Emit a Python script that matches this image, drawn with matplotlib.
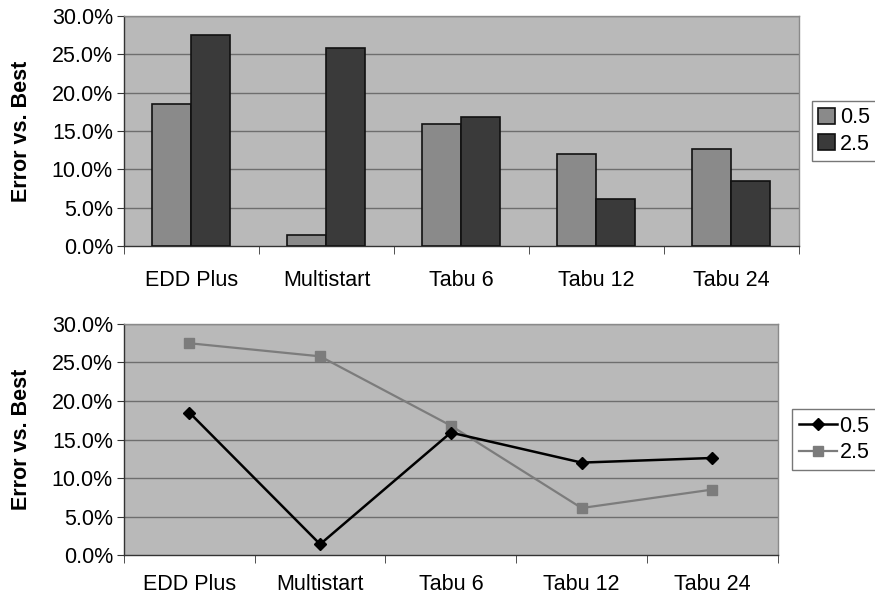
import matplotlib
matplotlib.use("Agg")
import matplotlib.pyplot as plt
from matplotlib.ticker import FuncFormatter, FixedLocator
import numpy as np

categories = ["EDD Plus", "Multistart", "Tabu 6", "Tabu 12", "Tabu 24"]
series_names = ["0.5", "2.5"]
err_05 = [18.5, 1.4, 15.9, 12.0, 12.6]
err_25 = [27.5, 25.8, 16.8, 6.1, 8.5]
yticks = [0, 5, 10, 15, 20, 25, 30]

plt.rcParams["font.family"] = ["Liberation Sans", "DejaVu Sans"]
FS = 15.5

PLOT_BG = "#b9b9b9"
GRID = "#6e6e6e"
BAR_05 = "#8a8a8a"
BAR_25 = "#3a3a3a"
LINE_25 = "#7c7c7c"

fig = plt.figure(figsize=(8.75, 5.98), dpi=100)
fig.patch.set_facecolor("white")

ax1 = fig.add_axes([0.1417, 0.5886, 0.913 - 0.1417, 0.9732 - 0.5886])
ax2 = fig.add_axes([0.1417, 0.0719, 0.8888 - 0.1417, 0.4582 - 0.0719])

x = np.arange(len(categories))


def style_axes(ax, xpad, label_x):
    ax.set_facecolor(PLOT_BG)
    ax.set_xlim(-0.5, len(categories) - 0.5)
    ax.set_ylim(0, 30)
    ax.set_yticks(yticks)
    ax.yaxis.set_major_formatter(FuncFormatter(lambda v, p: f"{v:.1f}%"))
    for v in yticks[1:]:
        ax.axhline(v, color=GRID, linewidth=1.0, zorder=1)
    ax.set_xticks(x)
    ax.set_xticklabels(categories)
    ax.tick_params(axis="x", which="major", length=0, pad=xpad, labelsize=FS)
    ax.xaxis.set_minor_locator(FixedLocator(np.arange(-0.5, len(categories), 1.0)))
    ax.tick_params(axis="x", which="minor", length=6, color="#333333", direction="out")
    ax.tick_params(axis="y", length=5, color="#333333", direction="out", pad=3,
                   labelsize=FS)
    for s in ["top", "right"]:
        ax.spines[s].set_color("#8a8a8a")
        ax.spines[s].set_linewidth(1.0)
    for s in ["left", "bottom"]:
        ax.spines[s].set_color("#333333")
        ax.spines[s].set_linewidth(1.0)
    ax.set_ylabel("Error vs. Best", fontweight="bold", fontsize=FS)
    ax.yaxis.set_label_coords(label_x, 0.5)


# top: grouped bars
style_axes(ax1, 17, -0.136)
w = 0.289
ax1.bar(x - w / 2, err_05, width=w, color=BAR_05, edgecolor="#111111",
        linewidth=1.2, zorder=3, label=series_names[0])
ax1.bar(x + w / 2, err_25, width=w, color=BAR_25, edgecolor="#111111",
        linewidth=1.2, zorder=3, label=series_names[1])
leg1 = ax1.legend(loc="center left", bbox_to_anchor=(1.019, 0.5),
                  frameon=True, fancybox=False, handlelength=0.8,
                  handleheight=0.8, handletextpad=0.2, borderpad=0.3,
                  labelspacing=0.25, fontsize=FS, borderaxespad=0)
leg1.get_frame().set_edgecolor("#555555")
leg1.get_frame().set_linewidth(1.0)

# bottom: lines
style_axes(ax2, 14, -0.1407)
ax2.plot(x, err_05, color="black", linewidth=1.8, marker="D", markersize=6,
         zorder=4, label=series_names[0])
ax2.plot(x, err_25, color=LINE_25, linewidth=1.6, marker="s", markersize=7,
         zorder=3, label=series_names[1])
leg2 = ax2.legend(loc="center left", bbox_to_anchor=(1.022, 0.5),
                  frameon=True, fancybox=False, handlelength=1.8,
                  handletextpad=0.1, borderpad=0.3, labelspacing=0.25,
                  fontsize=FS, borderaxespad=0)
leg2.get_frame().set_edgecolor("#555555")
leg2.get_frame().set_linewidth(1.0)

fig.savefig("out.png", dpi=100, facecolor="white")
